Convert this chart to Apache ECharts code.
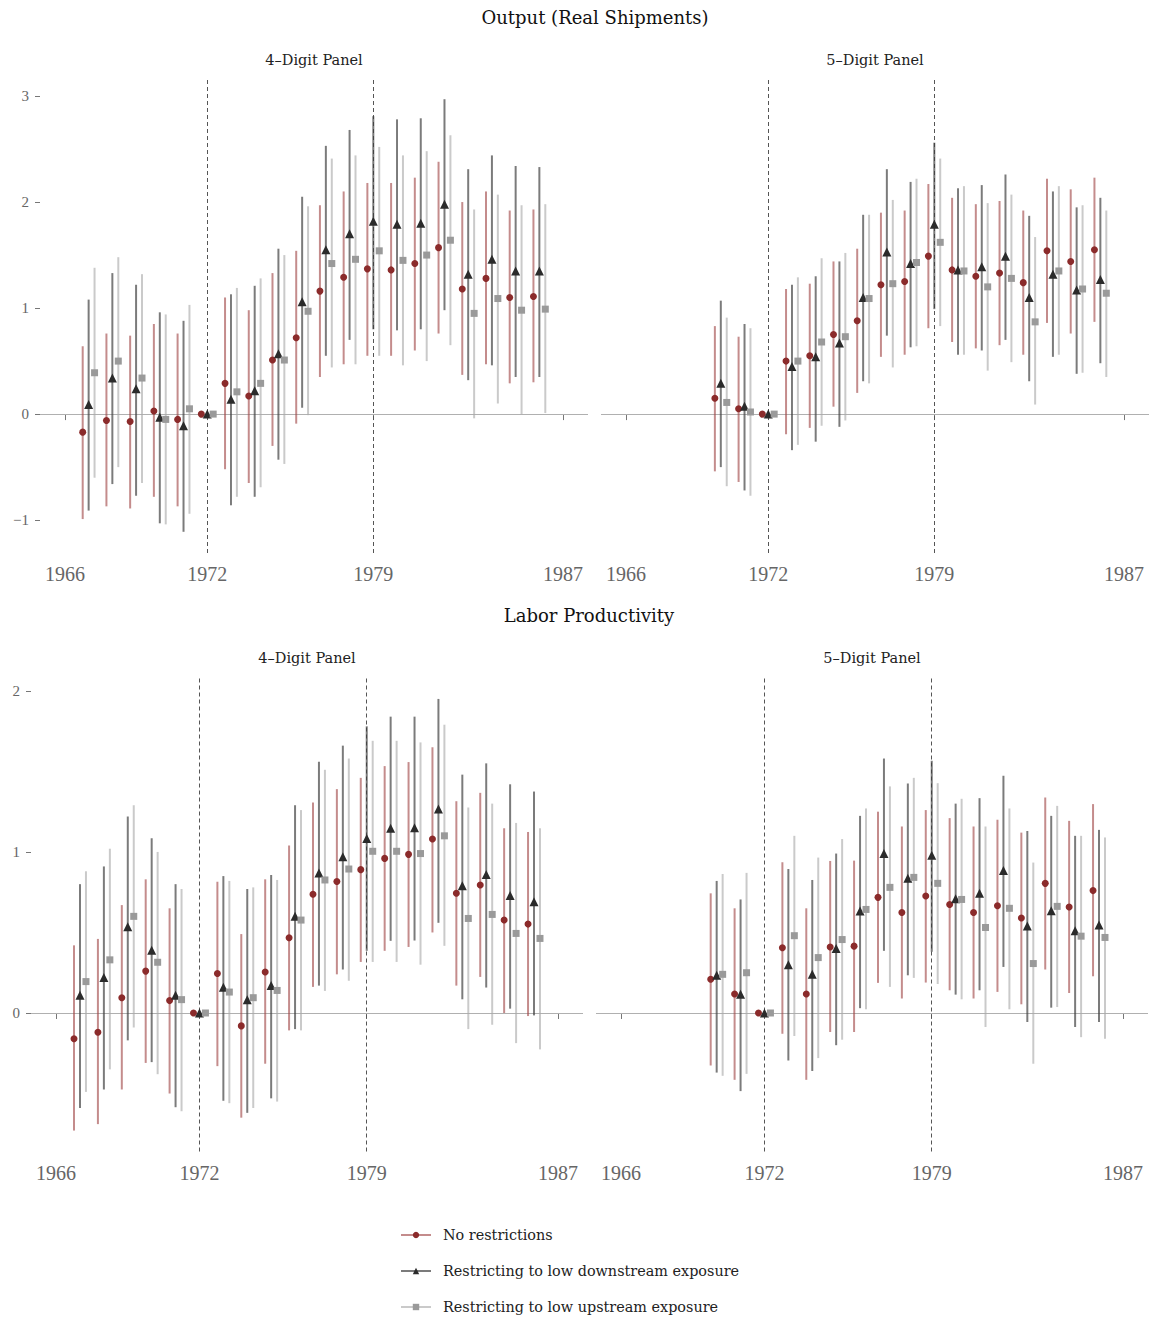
<!DOCTYPE html>
<html><head><meta charset="utf-8">
<script src="https://cdn.jsdelivr.net/npm/echarts@6/dist/echarts.min.js"></script>
<style>html,body{margin:0;padding:0;background:#fff}#c{width:1149px;height:1319px}</style>
</head><body><div id="c"></div>
<script>
// ---------------- data ----------------
const years4 = [1967,1968,1969,1970,1971,1972,1973,1974,1975,1976,1977,1978,1979,1980,1981,1982,1983,1984,1985,1986];
const years5 = [1970,1971,1972,1973,1974,1975,1976,1977,1978,1979,1980,1981,1982,1983,1984,1985,1986];
const xTicks = [1966,1972,1979,1987];
const refYears = [1972,1979];
const yTicksOutput = [-1,0,1,2,3];
const yTicksLabor = [0,1,2];
const groupNames = ['No restrictions','Restricting to low downstream exposure','Restricting to low upstream exposure'];
const panelTitles = ['4\u2013Digit Panel','5\u2013Digit Panel','4\u2013Digit Panel','5\u2013Digit Panel'];
const rowTitles = ['Output (Real Shipments)','Labor Productivity'];

// Output, 4-digit panel
const out4NoneEst = [-0.17,-0.06,-0.07,0.03,-0.05,0,0.29,0.17,0.51,0.72,1.16,1.29,1.37,1.36,1.42,1.57,1.18,1.28,1.10,1.11];
const out4NoneLo  = [-0.99,-0.87,-0.89,-0.78,-0.87,0,-0.52,-0.65,-0.30,-0.09,0.35,0.47,0.55,0.55,0.60,0.76,0.37,0.47,0.29,0.30];
const out4NoneHi  = [0.64,0.76,0.74,0.85,0.76,0,1.10,0.98,1.33,1.54,1.97,2.10,2.18,2.18,2.23,2.38,2.00,2.10,1.92,1.93];
const out4DownEst = [0.09,0.34,0.24,-0.03,-0.11,0,0.14,0.22,0.57,1.06,1.55,1.70,1.82,1.79,1.80,1.98,1.32,1.46,1.35,1.35];
const out4DownLo  = [-0.91,-0.66,-0.77,-1.03,-1.11,0,-0.86,-0.78,-0.43,0.06,0.55,0.70,0.80,0.79,0.80,0.98,0.32,0.46,0.35,0.35];
const out4DownHi  = [1.08,1.33,1.22,0.96,0.88,0,1.13,1.21,1.56,2.05,2.53,2.68,2.81,2.78,2.79,2.97,2.31,2.44,2.34,2.33];
const out4UpEst   = [0.39,0.50,0.34,-0.05,0.05,0,0.21,0.29,0.51,0.97,1.42,1.46,1.54,1.45,1.50,1.64,0.95,1.09,0.98,0.99];
const out4UpLo    = [-0.60,-0.50,-0.65,-1.04,-0.94,0,-0.78,-0.69,-0.47,-0.01,0.44,0.47,0.55,0.46,0.50,0.65,-0.04,0.10,0.00,0.01];
const out4UpHi    = [1.38,1.48,1.32,0.94,1.03,0,1.19,1.28,1.50,1.96,2.41,2.44,2.52,2.44,2.48,2.63,1.93,2.07,1.97,1.98];

// Output, 5-digit panel
const out5NoneEst = [0.15,0.05,0,0.50,0.55,0.75,0.88,1.22,1.25,1.49,1.36,1.30,1.33,1.24,1.54,1.44,1.55];
const out5NoneLo  = [-0.54,-0.64,0,-0.19,-0.13,0.07,0.20,0.54,0.56,0.81,0.68,0.62,0.65,0.56,0.86,0.76,0.87];
const out5NoneHi  = [0.83,0.73,0,1.18,1.23,1.44,1.56,1.90,1.92,2.17,2.04,1.98,2.01,1.92,2.22,2.12,2.23];
const out5DownEst = [0.29,0.075,0,0.45,0.54,0.67,1.10,1.53,1.42,1.79,1.36,1.39,1.49,1.10,1.32,1.17,1.27];
const out5DownLo  = [-0.50,-0.72,0,-0.34,-0.26,-0.12,0.31,0.74,0.63,0.99,0.56,0.60,0.70,0.31,0.54,0.38,0.48];
const out5DownHi  = [1.07,0.85,0,1.22,1.30,1.44,1.88,2.31,2.19,2.56,2.13,2.16,2.26,1.87,2.10,1.95,2.04];
const out5UpEst   = [0.11,0.02,0,0.50,0.68,0.73,1.09,1.23,1.43,1.62,1.35,1.20,1.28,0.87,1.35,1.18,1.14];
const out5UpLo    = [-0.68,-0.77,0,-0.29,-0.11,-0.06,0.29,0.44,0.64,0.83,0.56,0.41,0.49,0.09,0.56,0.39,0.35];
const out5UpHi    = [0.91,0.81,0,1.29,1.47,1.52,1.88,2.02,2.22,2.41,2.15,1.99,2.07,1.67,2.15,1.97,1.92];

// Labor productivity, 4-digit panel
const lp4NoneEst = [-0.16,-0.12,0.095,0.26,0.077,0,0.245,-0.08,0.255,0.467,0.737,0.817,0.89,0.96,0.985,1.08,0.743,0.795,0.577,0.552];
const lp4NoneLo  = [-0.73,-0.69,-0.475,-0.31,-0.50,0,-0.33,-0.65,-0.315,-0.108,0.162,0.24,0.317,0.386,0.41,0.50,0.17,0.224,0.00,-0.019];
const lp4NoneHi  = [0.42,0.46,0.67,0.83,0.65,0,0.815,0.49,0.83,1.04,1.307,1.39,1.46,1.533,1.558,1.65,1.315,1.367,1.147,1.124];
const lp4DownEst = [0.11,0.22,0.535,0.39,0.11,0,0.16,0.083,0.17,0.60,0.87,0.97,1.083,1.147,1.15,1.266,0.79,0.86,0.73,0.69];
const lp4DownLo  = [-0.59,-0.475,-0.17,-0.305,-0.585,0,-0.545,-0.62,-0.53,-0.10,0.17,0.27,0.386,0.448,0.45,0.56,0.085,0.158,0.027,-0.015];
const lp4DownHi  = [0.80,0.91,1.22,1.085,0.80,0,0.85,0.77,0.857,1.29,1.56,1.66,1.78,1.84,1.84,1.95,1.48,1.55,1.42,1.375];
const lp4UpEst   = [0.195,0.33,0.60,0.315,0.083,0,0.13,0.095,0.14,0.577,0.826,0.894,1.004,1.004,0.99,1.10,0.587,0.612,0.494,0.463];
const lp4UpLo    = [-0.49,-0.35,-0.09,-0.38,-0.61,0,-0.56,-0.59,-0.55,-0.108,0.137,0.20,0.317,0.317,0.30,0.417,-0.10,-0.073,-0.187,-0.226];
const lp4UpHi    = [0.88,1.02,1.29,1.00,0.77,0,0.82,0.78,0.826,1.26,1.51,1.58,1.69,1.69,1.68,1.79,1.276,1.30,1.18,1.147];

// Labor productivity, 5-digit panel
const lp5NoneEst = [0.21,0.118,0,0.405,0.118,0.41,0.415,0.718,0.624,0.726,0.674,0.624,0.666,0.59,0.805,0.658,0.76];
const lp5NoneLo  = [-0.326,-0.415,0,-0.129,-0.415,-0.118,-0.118,0.187,0.09,0.189,0.141,0.09,0.131,0.054,0.27,0.124,0.228];
const lp5NoneHi  = [0.743,0.65,0,0.936,0.65,0.944,0.946,1.25,1.158,1.26,1.21,1.158,1.20,1.12,1.338,1.193,1.297];
const lp5DownEst = [0.234,0.116,0,0.30,0.24,0.40,0.633,0.99,0.836,0.98,0.71,0.743,0.884,0.54,0.635,0.51,0.546];
const lp5DownLo  = [-0.37,-0.485,0,-0.295,-0.36,-0.20,0.03,0.386,0.234,0.38,0.114,0.141,0.286,-0.056,0.033,-0.087,-0.056];
const lp5DownHi  = [0.82,0.705,0,0.894,0.826,0.99,1.224,1.58,1.425,1.566,1.30,1.334,1.473,1.13,1.224,1.10,1.137];
const lp5UpEst   = [0.24,0.25,0,0.48,0.344,0.456,0.643,0.78,0.842,0.805,0.705,0.531,0.65,0.307,0.662,0.477,0.469];
const lp5UpLo    = [-0.39,-0.378,0,-0.143,-0.28,-0.166,0.023,0.162,0.218,0.18,0.085,-0.087,0.023,-0.315,0.037,-0.15,-0.16];
const lp5UpHi    = [0.863,0.87,0,1.10,0.965,1.08,1.27,1.407,1.46,1.427,1.33,1.158,1.27,0.934,1.286,1.10,1.09];

// ---------------- styling / layout ----------------
const SERIF = 'DejaVu Serif';
const dodge = [-0.25, 0, 0.25];
const pointColors = ['#8b2b2b', '#2b2b2b', '#9a9a9a'];
const barColors = ['rgba(160,70,70,0.62)', 'rgba(60,60,60,0.68)', 'rgba(170,170,170,0.62)'];
const symbols = ['circle', 'triangle', 'rect'];
const symbolSizes = [7, 9, 7];
const xMin = 1964.95, xMax = 1988.05;

const panels = [
  {grid:{left:40, top:78, width:548, height:475}, yMin:-1.31, yMax:3.17, yTicks:yTicksOutput, showY:true, years:years4,
   groups:[[out4NoneEst,out4NoneLo,out4NoneHi],[out4DownEst,out4DownLo,out4DownHi],[out4UpEst,out4UpLo,out4UpHi]]},
  {grid:{left:601, top:78, width:548, height:475}, yMin:-1.31, yMax:3.17, yTicks:yTicksOutput, showY:false, years:years5,
   groups:[[out5NoneEst,out5NoneLo,out5NoneHi],[out5DownEst,out5DownLo,out5DownHi],[out5UpEst,out5UpLo,out5UpHi]]},
  {grid:{left:31, top:678, width:552, height:473.5}, yMin:-0.86, yMax:2.08, yTicks:yTicksLabor, showY:true, years:years4,
   groups:[[lp4NoneEst,lp4NoneLo,lp4NoneHi],[lp4DownEst,lp4DownLo,lp4DownHi],[lp4UpEst,lp4UpLo,lp4UpHi]]},
  {grid:{left:596, top:678, width:552, height:473.5}, yMin:-0.86, yMax:2.08, yTicks:yTicksLabor, showY:false, years:years5,
   groups:[[lp5NoneEst,lp5NoneLo,lp5NoneHi],[lp5DownEst,lp5DownLo,lp5DownHi],[lp5UpEst,lp5UpLo,lp5UpHi]]}
];
const panelTitlePos = [[314,52],[875,52],[307,650],[872,650]];
const rowTitlePos = [[595,8],[589,606]];

function fmtNum(v){ return v < 0 ? '\u2212' + Math.abs(v) : String(v); }
function fmtYear(v){ return String(Math.round(v)); }

const grids = [], xAxes = [], yAxes = [], series = [];
panels.forEach((p, pi) => {
  grids.push(Object.assign({containLabel:false}, p.grid));
  xAxes.push({
    type:'value', gridIndex:pi, min:xMin, max:xMax,
    splitLine:{show:false}, axisLine:{show:false},
    axisTick:{show:true, customValues:xTicks, length:6, lineStyle:{color:'#777', width:1}},
    axisLabel:{customValues:xTicks, margin:11, fontFamily:'Liberation Serif', fontSize:20, color:'#666', formatter:fmtYear}
  });
  yAxes.push({
    type:'value', gridIndex:pi, min:p.yMin, max:p.yMax,
    splitLine:{show:false}, axisLine:{show:false},
    axisTick:{show:p.showY, customValues:p.yTicks, length:5, lineStyle:{color:'#777', width:1}},
    axisLabel:{show:p.showY, customValues:p.yTicks, margin:11, fontFamily:'Liberation Serif', fontSize:15, color:'#666', formatter:fmtNum}
  });
  // error bars
  p.groups.forEach((g, gi) => {
    const lo = g[1], hi = g[2];
    const color = barColors[gi];
    series.push({
      type:'custom', name: groupNames[gi] + ' (interval)', xAxisIndex:pi, yAxisIndex:pi, z:2, silent:true,
      encode:{x:0, y:[1,2]},
      data: p.years.map((yr, i) => [yr + dodge[gi], lo[i], hi[i]]),
      renderItem: function(params, api){
        const a = api.coord([api.value(0), api.value(1)]);
        const b = api.coord([api.value(0), api.value(2)]);
        return {type:'line', shape:{x1:a[0], y1:a[1], x2:b[0], y2:b[1]}, style:{stroke:color, lineWidth:2}};
      },
      markLine: gi === 0 ? {
        silent:true, symbol:'none', z:1, label:{show:false},
        data: refYears.map(y => ({xAxis:y, lineStyle:{color:'#555', type:[4,3], width:1}}))
              .concat([{yAxis:0, lineStyle:{color:'#b0b0b0', type:'solid', width:1}}])
      } : undefined
    });
  });
  // point estimates
  p.groups.forEach((g, gi) => {
    const est = g[0];
    series.push({
      type:'line', name: groupNames[gi], xAxisIndex:pi, yAxisIndex:pi, z:3,
      symbol: symbols[gi], symbolSize: symbolSizes[gi], showSymbol:true, showAllSymbol:true,
      lineStyle:{opacity:0, width:2}, itemStyle:{color:pointColors[gi], borderWidth:0},
      emphasis:{disabled:true}, silent:true,
      data: p.years.map((yr, i) => [yr + dodge[gi], est[i]])
    });
  });
});

const titles = [];
rowTitles.forEach((t, i) => titles.push({text:t, left:rowTitlePos[i][0], top:rowTitlePos[i][1], textAlign:'center', padding:0,
  textStyle:{fontFamily:SERIF, fontSize:18, fontWeight:'normal', color:'#111'}}));
panelTitles.forEach((t, i) => titles.push({text:t, left:panelTitlePos[i][0], top:panelTitlePos[i][1], textAlign:'center', padding:0,
  textStyle:{fontFamily:SERIF, fontSize:14.5, fontWeight:'normal', color:'#222'}}));

const chart = echarts.init(document.getElementById('c'), null, {renderer:'svg'});
chart.setOption({
  animation:false,
  backgroundColor:'#fff',
  title: titles,
  grid: grids, xAxis: xAxes, yAxis: yAxes, series: series,
  legend:{
    orient:'vertical', left:400, top:1228, padding:0, itemWidth:30, itemHeight:8, itemGap:22, selectedMode:false,
    textStyle:{fontFamily:SERIF, fontSize:14.4, color:'#222', padding:[0,0,0,7]},
    data: groupNames.map((n, i) => ({name:n, lineStyle:{color:barColors[i], width:2, opacity:1, type:'solid'}}))
  }
});
</script></body></html>
